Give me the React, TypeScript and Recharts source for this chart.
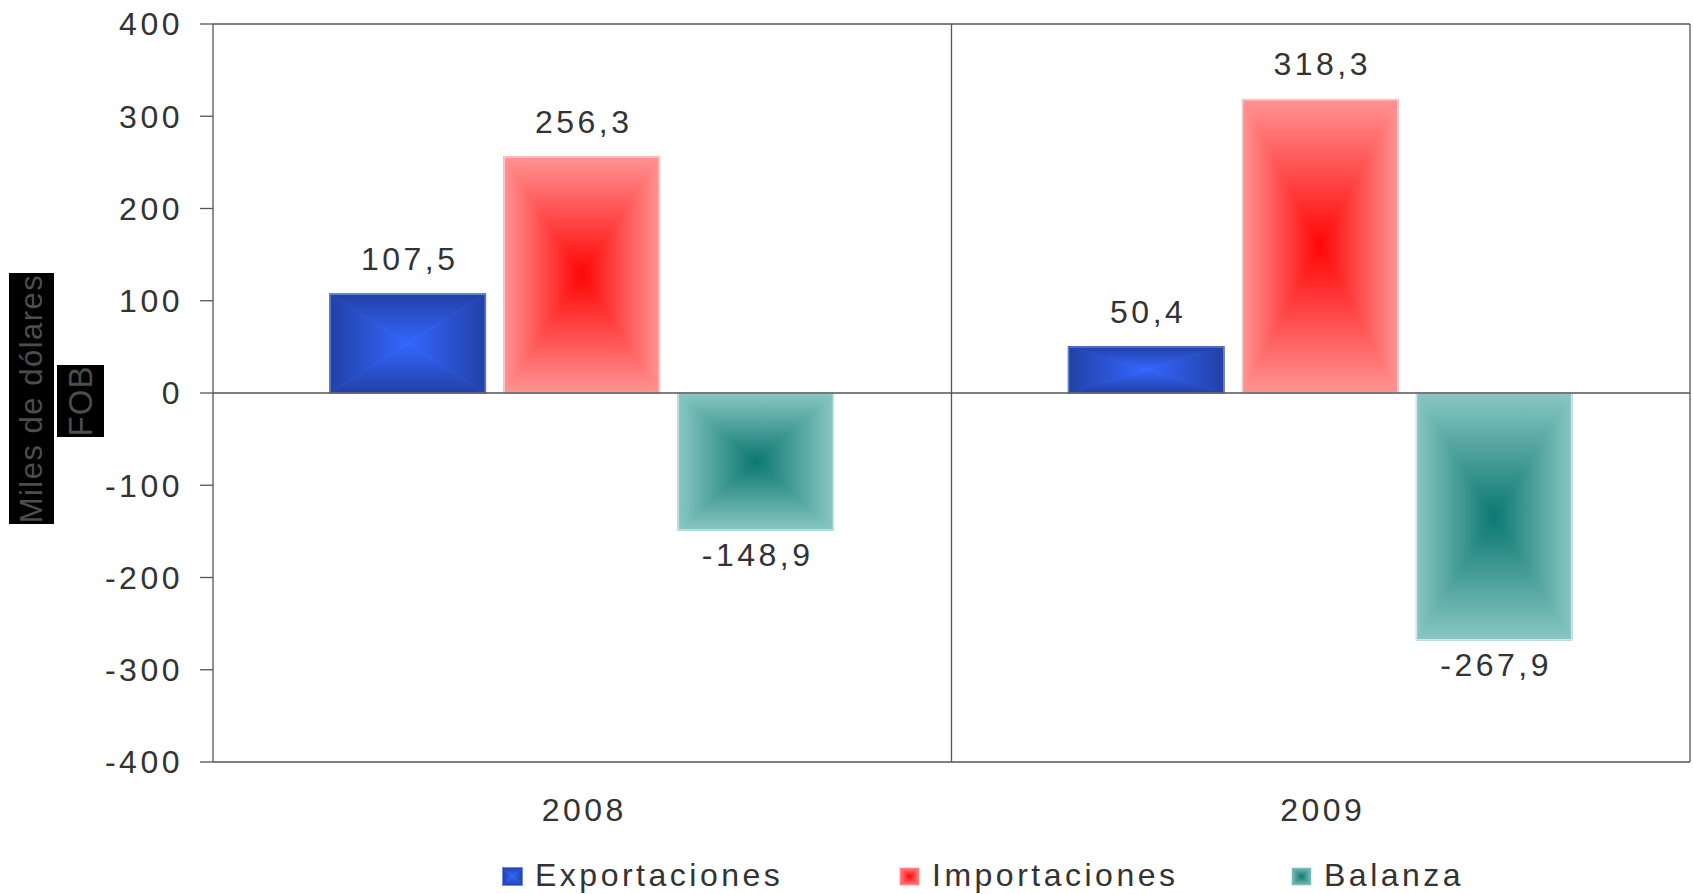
import React from 'react'
import { BarChart, Bar, XAxis, YAxis, CartesianGrid, ReferenceLine, Legend, LabelList } from 'recharts'

const years = ['2008', '2009']
const exportaciones = [107.5, 50.4]
const importaciones = [256.3, 318.3]
const balanza = [-148.9, -267.9]
const yTicks = [-400, -300, -200, -100, 0, 100, 200, 300, 400]

const FONT = '"Liberation Sans", Arial, sans-serif'
const TEXT = '#333333'
const LINE = '#555555'
const FS = 32
const LS = 3.5

const data = years.map((year, i) => ({
  year,
  exportaciones: exportaciones[i],
  importaciones: importaciones[i],
  balanza: balanza[i],
}))

const series = [
  { key: 'exportaciones', name: 'Exportaciones', gid: 'gExp', edge: '#2240a6', center: '#3466ff', stroke: '#6f8fdc' },
  { key: 'importaciones', name: 'Importaciones', gid: 'gImp', edge: '#ff9494', center: '#ff0505', stroke: '#f2dede' },
  { key: 'balanza', name: 'Balanza', gid: 'gBal', edge: '#8ac7c3', center: '#0b7771', stroke: '#dfeeee' },
]

// rectangular ("path") gradient: four triangles, each fading from its edge to the centre
function rectGradient(id: string, edge: string, center: string) {
  const dirs: [string, number, number, number, number][] = [
    ['t', 0, 0, 0, 1],
    ['b', 0, 1, 0, 0],
    ['l', 0, 0, 1, 0],
    ['r', 1, 0, 0, 0],
  ]
  return dirs.map(([d, x1, y1, x2, y2]) => (
    <linearGradient key={id + d} id={`${id}-${d}`} x1={x1} y1={y1} x2={x2} y2={y2}>
      <stop offset="0%" stopColor={edge} />
      <stop offset="100%" stopColor={center} />
    </linearGradient>
  ))
}

function GradientRect({ x, y, width, height, gid, stroke }: any) {
  const top = Math.min(y, y + height)
  const h = Math.abs(height)
  const cx = x + width / 2
  const cy = top + h / 2
  const r = x + width
  const b = top + h
  const tri = (pts: string, d: string) => (
    <polygon points={pts} fill={`url(#${gid}-${d})`} stroke={`url(#${gid}-${d})`} strokeWidth={0.8} strokeLinejoin="round" />
  )
  return (
    <g>
      {tri(`${x},${top} ${r},${top} ${cx},${cy}`, 't')}
      {tri(`${x},${b} ${r},${b} ${cx},${cy}`, 'b')}
      {tri(`${x},${top} ${x},${b} ${cx},${cy}`, 'l')}
      {tri(`${r},${top} ${r},${b} ${cx},${cy}`, 'r')}
      <rect x={x + 0.5} y={top + 0.5} width={width - 1} height={h - 1} fill="none" stroke={stroke} strokeWidth={1} />
    </g>
  )
}

function ValueLabel({ x, y, width, height, value }: any) {
  const v = Number(value)
  const top = Math.min(y, y + height)
  const bottom = Math.max(y, y + height)
  const ty = v >= 0 ? top - 24 : bottom + 36
  return (
    <text x={x + width / 2 + 2} y={ty} textAnchor="middle" fontSize={FS} fill={TEXT} fontFamily={FONT} letterSpacing={LS}>
      {v.toFixed(1).replace('.', ',')}
    </text>
  )
}

function YearTick({ x, y, payload }: any) {
  return (
    <text x={x + 2} y={y + 59} textAnchor="middle" fontSize={FS} fill={TEXT} fontFamily={FONT} letterSpacing={LS}>
      {payload.value}
    </text>
  )
}

function YTitle() {
  return (
    <g>
      <rect x={9} y={273} width={45} height={251} fill="#000" />
      <text
        x={31.5}
        y={398.5}
        transform="rotate(-90 31.5 398.5)"
        textAnchor="middle"
        dominantBaseline="central"
        fontSize={31}
        fill="#4d4d4d"
        fontFamily={FONT}
        letterSpacing={1.5}
      >
        Miles de dólares
      </text>
      <rect x={57} y={365} width={47} height={72} fill="#000" />
      <text
        x={80.5}
        y={401}
        transform="rotate(-90 80.5 401)"
        textAnchor="middle"
        dominantBaseline="central"
        fontSize={33}
        fill="#4d4d4d"
        fontFamily={FONT}
        letterSpacing={1}
      >
        FOB
      </text>
    </g>
  )
}

const legendLeft = [502, 899, 1291]

function LegendBox() {
  return (
    <div style={{ position: 'relative', height: 50, width: '100%' }}>
      {series.map((s, i) => (
        <div
          key={s.key}
          style={{ position: 'absolute', left: legendLeft[i], top: 6, height: 50, display: 'flex', alignItems: 'center' }}
        >
          <svg width={21} height={19} style={{ marginTop: 2 }}>
            <defs>{rectGradient('lg' + s.gid, s.edge, s.center)}</defs>
            <GradientRect x={0} y={0} width={21} height={19} gid={'lg' + s.gid} stroke={s.stroke} />
          </svg>
          <span style={{ marginLeft: 12, fontSize: FS, color: TEXT, fontFamily: FONT, letterSpacing: LS, lineHeight: '50px' }}>
            {s.name}
          </span>
        </div>
      ))}
    </div>
  )
}

export default function App() {
  return (
    <div style={{ position: 'absolute', left: 0, top: 0, width: 1693, height: 894, background: '#fff', overflow: 'hidden' }}>
      <BarChart
        width={1693}
        height={894}
        data={data}
        margin={{ top: 24, right: 3, left: 0, bottom: 0 }}
        barCategoryGap="15.8%"
        barGap={18}
      >
        <defs>{series.map((s) => rectGradient(s.gid, s.edge, s.center))}</defs>
        <CartesianGrid
          stroke={LINE}
          strokeWidth={1.3}
          horizontalCoordinatesGenerator={({ offset }: any) => [offset.top]}
          verticalCoordinatesGenerator={({ offset }: any) => [offset.left + offset.width / 2, offset.left + offset.width]}
        />
        <XAxis
          dataKey="year"
          height={82}
          axisLine={{ stroke: LINE, strokeWidth: 1.3 }}
          tickLine={false}
          tickSize={0}
          tickMargin={0}
          tick={<YearTick />}
        />
        <YAxis
          width={213}
          domain={[-400, 400]}
          ticks={yTicks}
          interval={0}
          axisLine={{ stroke: LINE, strokeWidth: 1.3 }}
          tickLine={{ stroke: LINE, strokeWidth: 1.3 }}
          tickSize={13}
          tickMargin={17}
          tick={{ fontSize: FS, fill: TEXT, fontFamily: FONT, letterSpacing: LS }}
          label={{ content: () => <YTitle /> }}
        />
        <ReferenceLine y={0} stroke={LINE} strokeWidth={1.3} />
        <Legend verticalAlign="bottom" height={50} content={() => <LegendBox />} />
        {series.map((s) => (
          <Bar
            key={s.key}
            dataKey={s.key}
            name={s.name}
            isAnimationActive={false}
            shape={(p: any) => <GradientRect {...p} gid={s.gid} stroke={s.stroke} />}
          >
            <LabelList dataKey={s.key} content={<ValueLabel />} />
          </Bar>
        ))}
      </BarChart>
    </div>
  )
}
